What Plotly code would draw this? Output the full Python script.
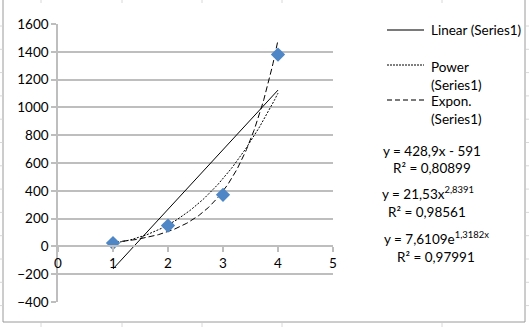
import numpy as np
import plotly.graph_objects as go

# ---- data ----
x_vals = [1, 2, 3, 4]
y_vals = [24, 150, 371, 1380]

lin_a, lin_b = 428.9, -591.0
pow_a, pow_b = 21.53, 2.8391
exp_a, exp_b = 7.6109, 1.3182

eq_labels = [
    ("y = 428,9x - 591", "R² = 0,80899"),
    ("y = 21,53x<sup>2,8391</sup>", "R² = 0,98561"),
    ("y = 7,6109e<sup>1,3182x</sup>", "R² = 0,97991"),
]
legend_labels = ["Linear (Series1)", "Power<br>(Series1)", "Expon.<br>(Series1)"]

x_ticks = [0, 1, 2, 3, 4, 5]
y_ticks = list(range(-400, 1601, 200))

W, H = 529, 327
L, R, T, B = 58, 333, 24, 302  # plot area pixels

def px(x):
    return (x - L) / (R - L)

def py(y):
    return (B - y) / (B - T)

FONT = "Lato, Calibri, Arial, sans-serif"
GRID = "#BEBEBE"
FS = 13.5

xt = np.linspace(min(x_vals), max(x_vals), 200)
fig = go.Figure()
fig.add_trace(go.Scatter(x=xt, y=lin_a * xt + lin_b, mode="lines",
                         line=dict(color="black", width=1), showlegend=False))
fig.add_trace(go.Scatter(x=xt, y=pow_a * xt ** pow_b, mode="lines",
                         line=dict(color="black", width=1, dash="2px,1.5px"), showlegend=False))
fig.add_trace(go.Scatter(x=xt, y=exp_a * np.exp(exp_b * xt), mode="lines",
                         line=dict(color="black", width=1, dash="6px,3px"), showlegend=False))
fig.add_trace(go.Scatter(x=x_vals, y=y_vals, mode="markers",
                         marker=dict(symbol="diamond", size=11, color="#4F86C6"),
                         showlegend=False))

shapes = []
annotations = []

# chart border (left, bottom, right)
for (x0, y0, x1, y1) in [(3, -5, 3, 322), (3, 322, 525, 322), (525, -5, 525, 322)]:
    shapes.append(dict(type="line", xref="paper", yref="paper",
                       x0=px(x0), y0=py(y0), x1=px(x1), y1=py(y1),
                       line=dict(color="#9A9A9A", width=1)))
# spreadsheet cell lines outside chart
for cx in [41, 122, 202, 282, 442]:
    shapes.append(dict(type="line", xref="paper", yref="paper",
                       x0=px(cx), y0=py(0), x1=px(cx), y1=py(3),
                       line=dict(color="#D8D8D8", width=1)))
    shapes.append(dict(type="line", xref="paper", yref="paper",
                       x0=px(cx), y0=py(323), x1=px(cx), y1=py(327),
                       line=dict(color="#D8D8D8", width=1)))
for ry in np.arange(26, 320, 23.3):
    shapes.append(dict(type="line", xref="paper", yref="paper",
                       x0=px(0), y0=py(ry), x1=px(2.5), y1=py(ry),
                       line=dict(color="#D8D8D8", width=1)))
    shapes.append(dict(type="line", xref="paper", yref="paper",
                       x0=px(526), y0=py(ry), x1=px(529), y1=py(ry),
                       line=dict(color="#D8D8D8", width=1)))

# legend
leg_styles = [dict(dash="solid", color="#7A7A7A", width=2),
              dict(dash="2px,1px", color="black", width=1),
              dict(dash="5px,3px", color="#7A7A7A", width=2)]
leg_line_y = [30, 65, 100]
leg_text_y = [30, 76, 110]
for st, ly, ty, lab in zip(leg_styles, leg_line_y, leg_text_y, legend_labels):
    shapes.append(dict(type="line", xref="paper", yref="paper",
                       x0=px(387), y0=py(ly), x1=px(424), y1=py(ly),
                       line=st))
    annotations.append(dict(xref="paper", yref="paper", x=px(429), y=py(ty),
                            text=lab, showarrow=False, xanchor="left", yanchor="middle",
                            align="left", font=dict(family=FONT, size=FS, color="black")))

# equations
eq_pos = [(432, 151, 432, 168), (428, 193, 427, 212), (436, 238, 436, 257)]
for (e, r2), (ex, ey, rx, ry) in zip(eq_labels, eq_pos):
    annotations.append(dict(xref="paper", yref="paper", x=px(ex), y=py(ey), text=e,
                            showarrow=False, xanchor="center", yanchor="middle",
                            font=dict(family=FONT, size=FS, color="black")))
    annotations.append(dict(xref="paper", yref="paper", x=px(rx), y=py(ry), text=r2,
                            showarrow=False, xanchor="center", yanchor="middle",
                            font=dict(family=FONT, size=FS, color="black")))

fig.update_layout(
    width=W, height=H,
    margin=dict(l=L, r=W - R, t=T, b=H - B),
    paper_bgcolor="white", plot_bgcolor="white",
    font=dict(family=FONT, size=FS, color="black"),
    shapes=shapes, annotations=annotations,
    xaxis=dict(range=[0, 5], tickvals=x_ticks, showgrid=False, zeroline=False,
               showline=True, linecolor=GRID, linewidth=1.5,
               anchor="free", position=400 / 2000,
               ticks="outside", ticklen=5, tickwidth=1.5, tickcolor=GRID,
               tickfont=dict(family=FONT, size=FS)),
    yaxis=dict(range=[-400, 1600], tickvals=y_ticks, showgrid=True, gridcolor=GRID,
               gridwidth=1.5, zeroline=False, showline=True, linecolor=GRID, linewidth=1.5,
               ticks="outside", ticklen=5, tickwidth=1.5, tickcolor=GRID,
               tickfont=dict(family=FONT, size=FS)),
)

fig.write_html("out.html")
